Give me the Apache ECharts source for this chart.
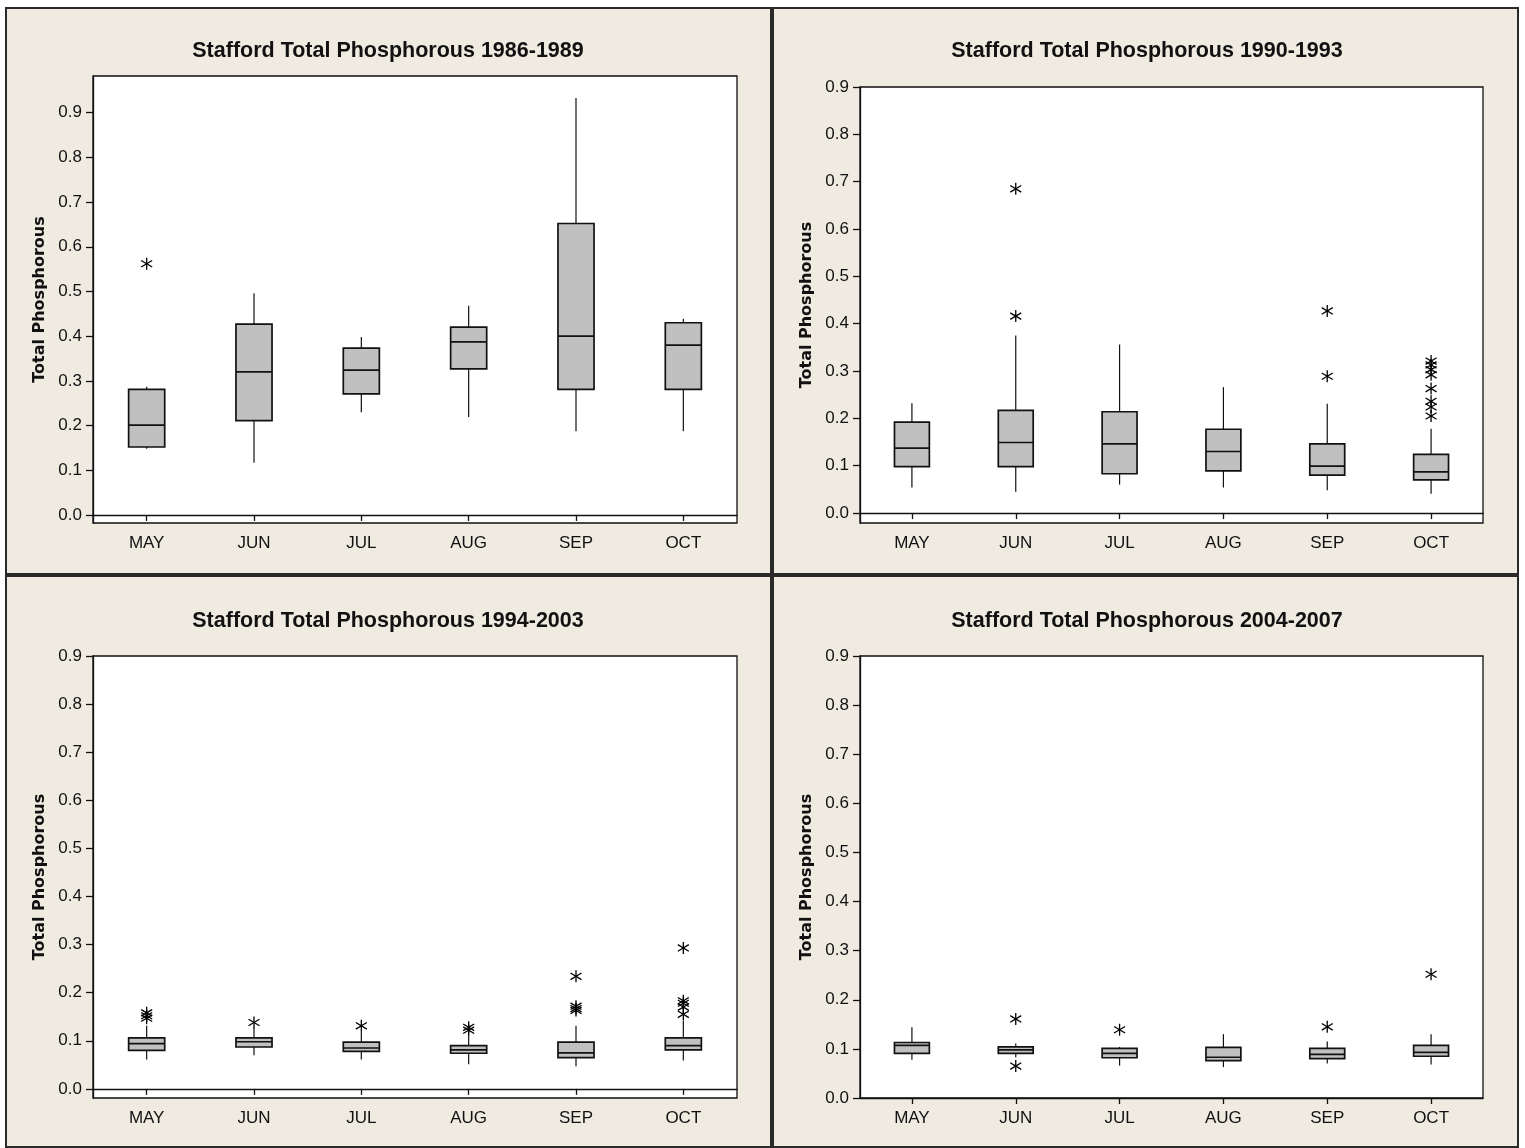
<!DOCTYPE html>
<html>
<head>
<meta charset="utf-8">
<script src="https://cdn.jsdelivr.net/npm/echarts@6/dist/echarts.min.js"></script>
<style>
  html, body { margin: 0; padding: 0; background: #ffffff; }
  #chart { width: 1525px; height: 1148px; }
</style>
</head>
<body>
<div id="chart"></div>
<script>
// Months sampled each season
const months = ['MAY', 'JUN', 'JUL', 'AUG', 'SEP', 'OCT'];
// Y tick labels shared by all four panels
const tickValues = [0, 0.1, 0.2, 0.3, 0.4, 0.5, 0.6, 0.7, 0.8, 0.9];

const titles = [
  'Stafford Total Phosphorous 1986-1989',
  'Stafford Total Phosphorous 1990-1993',
  'Stafford Total Phosphorous 1994-2003',
  'Stafford Total Phosphorous 2004-2007'
];

// Box statistics per month: [lower whisker, Q1, median, Q3, upper whisker]
const box8689 = [
  [0.148, 0.152, 0.201, 0.281, 0.287],
  [0.117, 0.211, 0.320, 0.427, 0.496],
  [0.230, 0.271, 0.324, 0.373, 0.398],
  [0.219, 0.327, 0.387, 0.420, 0.468],
  [0.187, 0.281, 0.400, 0.652, 0.933],
  [0.187, 0.281, 0.380, 0.430, 0.439]
];
const box9093 = [
  [0.054, 0.098, 0.137, 0.192, 0.232],
  [0.045, 0.098, 0.149, 0.217, 0.375],
  [0.060, 0.083, 0.146, 0.214, 0.356],
  [0.054, 0.089, 0.130, 0.177, 0.266],
  [0.048, 0.080, 0.099, 0.146, 0.231],
  [0.041, 0.070, 0.087, 0.124, 0.178]
];
const box9403 = [
  [0.061, 0.080, 0.094, 0.106, 0.131],
  [0.070, 0.087, 0.098, 0.106, 0.127],
  [0.061, 0.078, 0.085, 0.097, 0.119],
  [0.051, 0.074, 0.081, 0.090, 0.110],
  [0.047, 0.065, 0.075, 0.097, 0.131],
  [0.059, 0.081, 0.090, 0.106, 0.142]
];
const box0407 = [
  [0.078, 0.091, 0.107, 0.113, 0.144],
  [0.083, 0.091, 0.098, 0.104, 0.111],
  [0.066, 0.082, 0.091, 0.101, 0.104],
  [0.063, 0.076, 0.083, 0.103, 0.130],
  [0.070, 0.080, 0.089, 0.101, 0.115],
  [0.068, 0.085, 0.093, 0.107, 0.130]
];

// Outliers: [month index, value]
const out8689 = [[0, 0.562]];
const out9093 = [
  [1, 0.685], [1, 0.416],
  [4, 0.427], [4, 0.289],
  [5, 0.321], [5, 0.313], [5, 0.303], [5, 0.292], [5, 0.263], [5, 0.236], [5, 0.224], [5, 0.205]
];
const out9403 = [
  [0, 0.158], [0, 0.152], [0, 0.147],
  [1, 0.138],
  [2, 0.131],
  [3, 0.128], [3, 0.122],
  [4, 0.234], [4, 0.172], [4, 0.167], [4, 0.163],
  [5, 0.293], [5, 0.183], [5, 0.178], [5, 0.170], [5, 0.155]
];
const out0407 = [
  [1, 0.161], [1, 0.065],
  [2, 0.139],
  [4, 0.145],
  [5, 0.252]
];

const boxes = [box8689, box9093, box9403, box0407];
const outliers = [out8689, out9093, out9403, out0407];

// Panel layout (plot areas, y ranges, title anchors)
const grids = [
  { left: 93, top: 76, width: 644, height: 447 },
  { left: 860, top: 87, width: 623, height: 436 },
  { left: 93, top: 656, width: 644, height: 442 },
  { left: 860, top: 656, width: 623, height: 442 }
];
const yRanges = [[-0.018, 0.982], [-0.021, 0.9], [-0.019, 0.9], [0, 0.9]];
const titlePos = [[388, 40], [1147, 40], [388, 610], [1147, 610]];

const tickFont = '"Liberation Sans Narrow", "Arial Narrow", "Liberation Sans", Arial, sans-serif';
const ink = '#111111';

function renderBox(params, api) {
  const x = api.value(0);
  const lo = api.coord([x, api.value(1)]);
  const q1 = api.coord([x, api.value(2)]);
  const md = api.coord([x, api.value(3)]);
  const q3 = api.coord([x, api.value(4)]);
  const hi = api.coord([x, api.value(5)]);
  const half = api.size([1, 0])[0] * 0.168;
  const cx = lo[0];
  return {
    type: 'group',
    children: [
      { type: 'line', shape: { x1: cx, y1: q3[1], x2: cx, y2: hi[1] },
        style: { stroke: ink, lineWidth: 1.2 } },
      { type: 'line', shape: { x1: cx, y1: q1[1], x2: cx, y2: lo[1] },
        style: { stroke: ink, lineWidth: 1.2 } },
      { type: 'rect', shape: { x: cx - half, y: q3[1], width: half * 2, height: q1[1] - q3[1] },
        style: { fill: '#c0c0c0', stroke: ink, lineWidth: 1.7 } },
      { type: 'line', shape: { x1: cx - half, y1: md[1], x2: cx + half, y2: md[1] },
        style: { stroke: ink, lineWidth: 1.7 } }
    ]
  };
}

function renderStar(params, api) {
  const p = api.coord([api.value(0), api.value(1)]);
  const w = 5.5, h = 6, d = 3.3;
  const st = { stroke: '#000', lineWidth: 1.3 };
  return {
    type: 'group',
    children: [
      { type: 'line', shape: { x1: p[0], y1: p[1] - h, x2: p[0], y2: p[1] + h }, style: st },
      { type: 'line', shape: { x1: p[0] - w, y1: p[1] - d, x2: p[0] + w, y2: p[1] + d }, style: st },
      { type: 'line', shape: { x1: p[0] - w, y1: p[1] + d, x2: p[0] + w, y2: p[1] - d }, style: st }
    ]
  };
}

const option = {
  backgroundColor: '#efebe1',
  animation: false,
  title: titles.map((t, i) => ({
    text: t,
    left: titlePos[i][0],
    top: titlePos[i][1],
    textAlign: 'center',
    padding: 0,
    textStyle: { fontFamily: '"Liberation Sans", Arial, sans-serif', fontWeight: 'bold', fontSize: 21.5, color: ink }
  })),
  grid: grids.map(g => Object.assign({
    show: true, backgroundColor: '#ffffff', borderColor: ink, borderWidth: 1.3, containLabel: false
  }, g)),
  xAxis: grids.map((g, i) => ({
    type: 'category',
    gridIndex: i,
    data: months,
    boundaryGap: true,
    axisLine: { show: true, lineStyle: { color: ink, width: 1.3 } },
    axisTick: { show: true, alignWithLabel: true, length: 6, lineStyle: { color: ink, width: 1.3 } },
    axisLabel: { color: ink, fontFamily: tickFont, fontSize: 17, margin: 12 },
    splitLine: { show: false }
  })),
  yAxis: grids.map((g, i) => ({
    type: 'value',
    gridIndex: i,
    min: yRanges[i][0],
    max: yRanges[i][1],
    name: 'Total Phosphorous',
    nameLocation: 'middle',
    nameRotate: 90,
    nameGap: 45,
    nameTextStyle: { fontFamily: '"DejaVu Sans", sans-serif', fontWeight: 'bold', fontSize: 16, color: ink },
    axisLine: { show: true, lineStyle: { color: ink, width: 1.3 } },
    axisTick: { show: true, length: 7, customValues: tickValues, lineStyle: { color: ink, width: 1.3 } },
    axisLabel: { color: ink, fontFamily: tickFont, fontSize: 17, margin: 11,
      customValues: tickValues, formatter: v => v.toFixed(1) },
    splitLine: { show: false }
  })),
  graphic: [
    { type: 'rect', shape: { x: 0, y: 0, width: 1525, height: 7 }, style: { fill: '#ffffff' } },
    { type: 'rect', shape: { x: 0, y: 0, width: 5, height: 1148 }, style: { fill: '#ffffff' } },
    { type: 'rect', shape: { x: 1519, y: 0, width: 6, height: 1148 }, style: { fill: '#ffffff' } },
    { type: 'rect', shape: { x: 6, y: 8, width: 765, height: 566 }, style: { fill: 'none', stroke: '#2a2a2a', lineWidth: 2 } },
    { type: 'rect', shape: { x: 773, y: 8, width: 745, height: 566 }, style: { fill: 'none', stroke: '#2a2a2a', lineWidth: 2 } },
    { type: 'rect', shape: { x: 6, y: 576, width: 765, height: 571 }, style: { fill: 'none', stroke: '#2a2a2a', lineWidth: 2 } },
    { type: 'rect', shape: { x: 773, y: 576, width: 745, height: 571 }, style: { fill: 'none', stroke: '#2a2a2a', lineWidth: 2 } }
  ],
  series: []
};

boxes.forEach((b, i) => {
  option.series.push({
    type: 'custom',
    name: titles[i] + ' box',
    xAxisIndex: i, yAxisIndex: i,
    renderItem: renderBox,
    encode: { x: 0, y: [1, 2, 3, 4, 5] },
    data: b.map((s, k) => [k].concat(s))
  });
  option.series.push({
    type: 'custom',
    name: titles[i] + ' outliers',
    xAxisIndex: i, yAxisIndex: i,
    renderItem: renderStar,
    encode: { x: 0, y: 1 },
    data: outliers[i]
  });
});

const chart = echarts.init(document.getElementById('chart'), null, { renderer: 'canvas' });
chart.setOption(option);
</script>
</body>
</html>
